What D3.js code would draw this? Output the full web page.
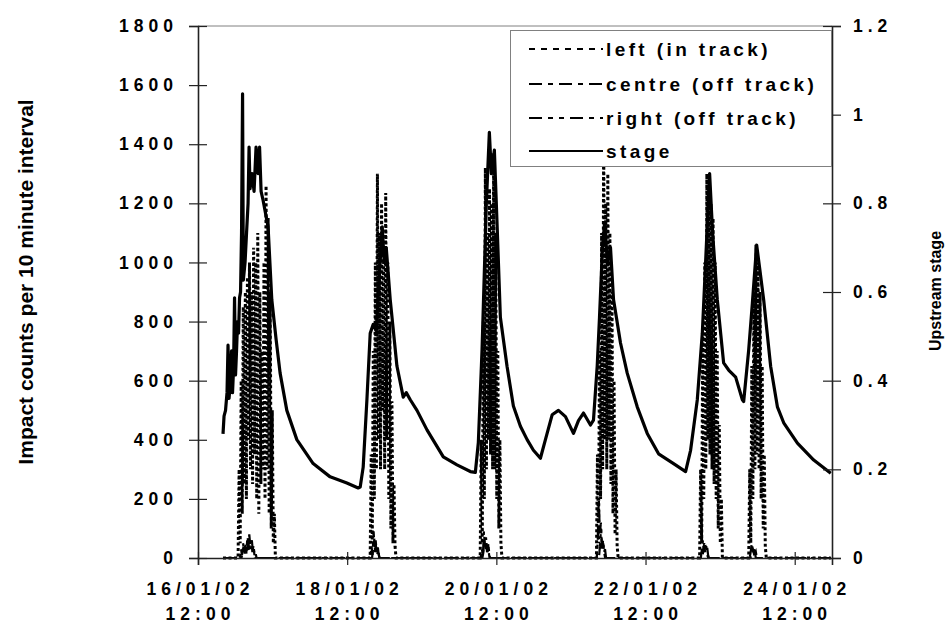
<!DOCTYPE html>
<html>
<head>
<meta charset="utf-8">
<script src="https://cdn.jsdelivr.net/npm/d3@7"></script>
<style>
  body { margin: 0; background: #fff; }
  svg text { font-family: "Liberation Sans", Arial, sans-serif; font-weight: bold; fill: #000; }
</style>
</head>
<body>
<div id="chart"></div>
<script>
const width = 951;
const height = 623;

// time is hours after 16/01/02 12:00
const startDate = new Date(2002, 0, 16, 12, 0);
const xTicks = [0, 48, 96, 144, 192];
const countTicks = [0, 200, 400, 600, 800, 1000, 1200, 1400, 1600, 1800];
const stageTicks = [0, 0.2, 0.4, 0.6, 0.8, 1, 1.2];

// upstream stage (right axis)
const stageHours = [8.05, 8.38, 8.86, 9.34, 9.66, 9.99, 10.47, 10.79, 11.11, 11.44, 11.76, 12.08, 12.40, 12.73, 13.05, 13.37,
  13.69, 14.01, 14.34, 14.59, 15.14, 15.62, 16.11, 16.43, 16.75, 17.40, 18.04, 18.68, 19.33, 19.81, 20.30, 20.94, 22.55,
  23.74, 25.13, 26.42, 28.58, 31.80, 37.05, 42.52, 47.90, 51.54, 52.19, 53.15, 54.35, 55.41, 56.38, 57.34, 58.31, 59.28,
  59.92, 60.57, 61.85, 64.01, 66.04, 67.01, 68.30, 70.46, 73.68, 78.93, 83.34, 87.63, 89.24, 90.20, 91.40, 91.81, 92.78,
  93.75, 94.39, 95.36, 96.33, 97.29, 99.45, 101.48, 103.74, 105.90, 107.93, 110.18, 111.79, 113.95, 115.98, 118.24, 120.81,
  122.42, 124.03, 126.29, 127.25, 128.45, 129.19, 130.15, 130.80, 131.76, 132.73, 133.70, 135.95, 138.11, 141.33, 144.55,
  148.19, 153.02, 156.89, 158.50, 160.66, 162.27, 163.33, 164.62, 165.59, 167.10, 169.13, 170.74, 173.00, 175.16, 175.58,
  177.19, 178.38, 179.76, 180.73, 182.02, 184.27, 186.43, 188.46, 192.87, 198.12, 203.60];
const stageLevels = [0.280, 0.320, 0.333, 0.373, 0.480, 0.360, 0.400, 0.467, 0.373, 0.427, 0.587, 0.413, 0.467, 0.533, 0.507, 0.587,
  0.600, 0.733, 1.047, 0.627, 0.667, 0.733, 0.800, 0.927, 0.833, 0.867, 0.827, 0.927, 0.867, 0.927, 0.827, 0.807, 0.747,
  0.583, 0.493, 0.417, 0.333, 0.267, 0.213, 0.183, 0.169, 0.158, 0.160, 0.205, 0.357, 0.507, 0.527, 0.513, 0.633, 0.747,
  0.667, 0.700, 0.583, 0.433, 0.363, 0.373, 0.357, 0.333, 0.289, 0.228, 0.210, 0.195, 0.193, 0.260, 0.470, 0.567, 0.800,
  0.960, 0.867, 0.920, 0.733, 0.543, 0.432, 0.343, 0.297, 0.267, 0.243, 0.225, 0.267, 0.323, 0.333, 0.319, 0.281,
  0.310, 0.327, 0.300, 0.311, 0.433, 0.543, 0.700, 0.753, 0.667, 0.700, 0.583, 0.485, 0.417, 0.341, 0.281,
  0.235, 0.213, 0.195, 0.243, 0.357, 0.507, 0.667, 0.867, 0.733, 0.582, 0.440, 0.424, 0.408, 0.357, 0.353,
  0.469, 0.575, 0.706, 0.653, 0.582, 0.432, 0.341, 0.305, 0.259, 0.221, 0.191];

// impact counts, one reading every 20 minutes during each event
const stepHours = 1 / 3;
const leftStarts = [12.9, 55.4, 90.8, 128.2, 161.4, 177.2];
const leftEvents = [
  [0, 300, 50, 600, 150, 850, 250, 900, 200, 950, 400, 1000, 300, 900, 250, 1050, 350, 1000, 200, 1100, 150, 900, 250, 700, 300, 1000, 200, 1260, 300, 1150, 150, 900, 100, 500, 50, 150, 0],
  [0, 350, 50, 700, 200, 1000, 300, 1300, 400, 1100, 300, 1200, 500, 1000, 300, 1235, 400, 1000, 200, 800, 100, 530, 50, 250, 40, 0],
  [0, 400, 50, 800, 200, 1320, 300, 1100, 400, 1250, 350, 1200, 300, 1370, 300, 1100, 200, 700, 100, 400, 50, 0],
  [0, 350, 50, 700, 200, 1100, 300, 1450, 400, 1200, 300, 1300, 400, 1100, 250, 900, 150, 600, 80, 300, 40, 0],
  [0, 300, 50, 750, 200, 1000, 300, 1300, 400, 1250, 350, 1200, 300, 1150, 250, 1000, 200, 700, 100, 450, 50, 200, 0],
  [0, 300, 50, 650, 200, 900, 300, 1060, 350, 1000, 300, 900, 200, 650, 100, 350, 40, 0]
];
const centreStarts = [13.5, 55.5, 91, 128.3, 161.8, 177.5];
const centreEvents = [
  [0, 30, 10, 50, 20, 40, 10, 60, 30, 80, 40, 60, 20, 40, 10, 20, 0],
  [0, 40, 10, 90, 30, 60, 20, 40, 10, 0],
  [0, 30, 10, 90, 40, 70, 20, 50, 10, 0],
  [0, 60, 200, 80, 120, 40, 60, 20, 30, 0],
  [0, 30, 60, 20, 50, 30, 40, 10, 0],
  [0, 20, 50, 30, 40, 10, 20, 0]
];
const rightStarts = [14, 56, 91.5, 129, 162.2, 177.8];
const rightEvents = [
  [0, 20, 40, 15, 50, 25, 70, 20, 50, 30, 60, 20, 30, 0],
  [0, 30, 70, 20, 50, 10, 30, 0],
  [0, 20, 60, 30, 50, 20, 40, 0],
  [0, 40, 100, 30, 60, 20, 0],
  [0, 20, 50, 20, 40, 10, 0],
  [0, 20, 40, 20, 30, 0]
];

const seriesNames = ["left (in track)", "centre (off track)", "right (off track)", "stage"];
const dashes = ["3,2.5", "12,5,4,5", "12,5,4,5,4,5", null];
const legendDashes = ["6,6", "13,6,5,6", "13,6,5,6,5,6", null];

const plot = { left: 198, right: 832, top: 26, bottom: 558 };

const svg = d3.select("#chart").append("svg").attr("width", width).attr("height", height);

const hourDate = h => new Date(startDate.getTime() + h * 3600000);

const x = d3.scaleTime().domain([hourDate(0), hourDate(204)]).range([plot.left, plot.right]);
const yCount = d3.scaleLinear().domain([0, 1800]).range([plot.bottom, plot.top]);
const yStage = d3.scaleLinear().domain([0, 1.2]).range([plot.bottom, plot.top]);

function eventSeries(starts, events) {
  let pts = [{ h: stageHours[0], v: 0 }];
  events.forEach((vals, i) => {
    vals.forEach((v, j) => pts.push({ h: starts[i] + j * stepHours, v: v }));
  });
  pts.push({ h: stageHours[stageHours.length - 1], v: 0 });
  return pts;
}

const countLine = d3.line().x(d => x(hourDate(d.h))).y(d => yCount(d.v));
const stageLine = d3.line().x((d, i) => x(hourDate(stageHours[i]))).y(d => yStage(d));

// plot frame (top edge grey)
svg.append("line").attr("x1", plot.left).attr("x2", plot.right).attr("y1", plot.top).attr("y2", plot.top)
  .attr("stroke", "#808080").attr("stroke-width", 1);

const dataGroup = svg.append("g");

dataGroup.append("path").datum(eventSeries(rightStarts, rightEvents))
  .attr("d", countLine).attr("fill", "none").attr("stroke", "#000")
  .attr("stroke-width", 2.2).attr("stroke-dasharray", dashes[2]);

dataGroup.append("path").datum(eventSeries(centreStarts, centreEvents))
  .attr("d", countLine).attr("fill", "none").attr("stroke", "#000")
  .attr("stroke-width", 2.2).attr("stroke-dasharray", dashes[1]);

dataGroup.append("path").datum(eventSeries(leftStarts, leftEvents))
  .attr("d", countLine).attr("fill", "none").attr("stroke", "#000")
  .attr("stroke-width", 3).attr("stroke-dasharray", dashes[0]);

dataGroup.append("path").datum(stageLevels)
  .attr("d", stageLine).attr("fill", "none").attr("stroke", "#000")
  .attr("stroke-width", 3.2).attr("stroke-linejoin", "round");

// axes
const tickFont = "17.5px";
const spacing = "5px";

const leftAxis = svg.append("g").attr("transform", `translate(${plot.left},0)`)
  .call(d3.axisLeft(yCount).tickValues(countTicks).tickSize(9).tickFormat(d3.format("d")));
const rightAxis = svg.append("g").attr("transform", `translate(${plot.right},0)`)
  .call(d3.axisRight(yStage).tickValues(stageTicks).tickSize(9).tickPadding(12).tickFormat(d3.format("")));
const bottomAxis = svg.append("g").attr("transform", `translate(0,${plot.bottom})`)
  .call(d3.axisBottom(x).tickValues(xTicks.map(hourDate)).tickSize(7).tickFormat(""));

[leftAxis, rightAxis, bottomAxis].forEach(g => {
  g.select(".domain").attr("stroke", "#222").attr("stroke-width", 1.6);
  g.selectAll(".tick line").attr("stroke", "#222").attr("stroke-width", 1.2);
  g.selectAll("text").style("font-size", tickFont).style("letter-spacing", spacing)
    .style("font-family", "'Liberation Sans', Arial, sans-serif").style("font-weight", "bold").attr("fill", "#000");
});
leftAxis.selectAll(".tick line").attr("x1", 9);
rightAxis.selectAll(".tick line").attr("x1", -9);
bottomAxis.selectAll(".tick line").attr("y1", -6);
leftAxis.selectAll(".tick text").attr("x", -20);

const dayFormat = d3.timeFormat("%d/%m/%y");
const timeFormat = d3.timeFormat("%H:%M");
xTicks.forEach(h => {
  const t = svg.append("text").attr("text-anchor", "middle")
    .style("font-size", tickFont).style("letter-spacing", spacing);
  t.append("tspan").attr("x", x(hourDate(h)) + 2.5).attr("y", 595).text(dayFormat(hourDate(h)));
  t.append("tspan").attr("x", x(hourDate(h)) + 2.5).attr("y", 620).text(timeFormat(hourDate(h)));
});

// axis titles
svg.append("text").attr("transform", "translate(33,282) rotate(-90)").attr("text-anchor", "middle")
  .style("font-size", "21px").text("Impact counts per 10 minute interval");
svg.append("text").attr("transform", "translate(941,291) rotate(-90)").attr("text-anchor", "middle")
  .style("font-size", "16px").text("Upstream stage");

// legend
const legend = svg.append("g");
legend.append("rect").attr("x", 510.5).attr("y", 30.5).attr("width", 321).attr("height", 136)
  .attr("fill", "#fff").attr("stroke", "#808080").attr("stroke-width", 1);
const rowY = [49, 84, 118, 151];
seriesNames.forEach((name, i) => {
  legend.append("line").attr("x1", 529).attr("x2", 603).attr("y1", rowY[i]).attr("y2", rowY[i])
    .attr("stroke", "#000").attr("stroke-width", 2).attr("stroke-dasharray", legendDashes[i]);
  legend.append("text").attr("x", 606).attr("y", rowY[i] + 7)
    .style("font-size", "19px").style("letter-spacing", "3.4px").text(name);
});
</script>
</body>
</html>
